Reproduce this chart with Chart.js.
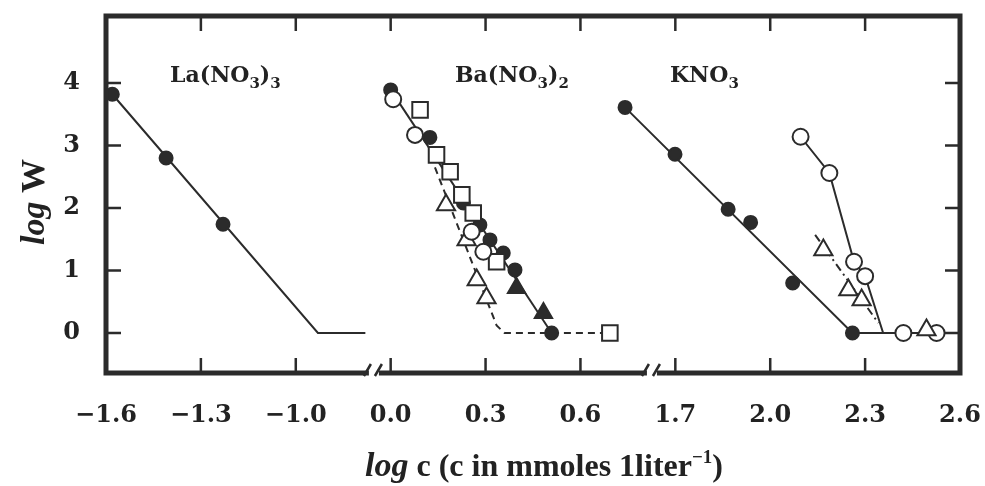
<!DOCTYPE html>
<html>
<head>
<meta charset="utf-8">
<script src="https://cdn.jsdelivr.net/npm/chart.js@4.4.0/dist/chart.umd.min.js"></script>
<style>
  html, body { margin: 0; padding: 0; background: #fff; }
  #wrap { width: 985px; height: 486px; }
</style>
</head>
<body>
<div id="wrap"><canvas id="grafico"></canvas></div>
<script>
// Eixo x quebrado em tres trechos: La(NO3)3, Ba(NO3)2 e KNO3
const ticksLa = [-1.6, -1.3, -1.0];
const ticksBa = [0.0, 0.3, 0.6];
const ticksK = [1.7, 2.0, 2.3, 2.6];
const ticksY = [0, 1, 2, 3, 4];

// La(NO3)3
const laC = [-1.58, -1.41, -1.23];
const laW = [3.82, 2.80, 1.74];
const laRetaC = [-1.58, -0.93, -0.78];
const laRetaW = [3.82, 0.0, 0.0];

// Ba(NO3)2
const baCheioC = [0.0, 0.124, 0.23, 0.282, 0.314, 0.356, 0.393, 0.509];
const baCheioW = [3.89, 3.13, 2.08, 1.73, 1.49, 1.28, 1.01, 0.0];
const baTriCheioC = [0.398, 0.483];
const baTriCheioW = [0.72, 0.32];
const baCirculoC = [0.008, 0.077, 0.256, 0.293];
const baCirculoW = [3.74, 3.17, 1.62, 1.30];
const baQuadC = [0.093, 0.145, 0.188, 0.225, 0.261, 0.335, 0.693];
const baQuadW = [3.57, 2.85, 2.58, 2.21, 1.92, 1.14, 0.0];
const baTriC = [0.175, 0.240, 0.272, 0.303];
const baTriW = [2.05, 1.49, 0.85, 0.56];
const baRetaC = [0.0, 0.509];
const baRetaW = [3.89, 0.0];
const baTracoC = [0.14, 0.335, 0.36, 0.693];
const baTracoW = [2.65, 0.12, 0.0, 0.0];

// KNO3
const kCheioC = [1.541, 1.699, 1.867, 1.938, 2.071, 2.260];
const kCheioW = [3.61, 2.86, 1.98, 1.77, 0.80, 0.0];
const kRetaC = [1.541, 2.260, 2.6];
const kRetaW = [3.61, 0.0, 0.0];
const kCirculoC = [2.096, 2.187, 2.265, 2.300, 2.421, 2.526];
const kCirculoW = [3.14, 2.56, 1.14, 0.91, 0.0, 0.0];
const kCirculoRetaC = [2.096, 2.187, 2.265, 2.300, 2.357];
const kCirculoRetaW = [3.14, 2.56, 1.14, 0.91, 0.0];
const kTriC = [2.168, 2.247, 2.289, 2.494];
const kTriW = [1.33, 0.69, 0.53, 0.05];
const kTracoPontoC = [2.142, 2.342];
const kTracoPontoW = [1.57, 0.16];

// deslocamento de cada trecho no eixo continuo do grafico
const deslocamento = { la: 1.6, ba: 0.9, k: 0.1 };
const quebras = [0.847, 1.726];

const cor = '#2b2b2b';

function serie(cs, ws, trecho) {
  return cs.map((c, i) => ({ x: c + deslocamento[trecho], y: ws[i] }));
}

function marcadores(dados, estilo, raio, cheio) {
  return {
    data: dados, showLine: false, pointStyle: estilo,
    pointRadius: raio, pointHoverRadius: raio,
    pointBackgroundColor: cheio ? cor : '#fff',
    pointBorderColor: cor, pointBorderWidth: 2, order: 1
  };
}

function linha(dados, tracejado) {
  return {
    data: dados, showLine: true, pointRadius: 0, pointHoverRadius: 0,
    borderColor: cor, borderWidth: 2, borderDash: tracejado || [], order: 10
  };
}

const posicoesX = [
  ...ticksLa.map(v => v + deslocamento.la),
  ...ticksBa.map(v => v + deslocamento.ba),
  ...ticksK.map(v => v + deslocamento.k)
];
const rotulosX = [...ticksLa, ...ticksBa, ...ticksK].map(v => v.toFixed(1).replace('-', '\u2212'));

// moldura grossa, ticks para dentro e marcas de quebra
const moldura = {
  id: 'moldura',
  afterDatasetsDraw(chart) {
    const { ctx, chartArea: a, scales } = chart;
    ctx.save();
    ctx.strokeStyle = cor;
    ctx.lineWidth = 2.5;
    ctx.beginPath();
    ticksY.forEach(v => {
      const y = scales.y.getPixelForValue(v);
      ctx.moveTo(a.left, y); ctx.lineTo(a.left + 15, y);
      ctx.moveTo(a.right, y); ctx.lineTo(a.right - 15, y);
    });
    posicoesX.forEach(v => {
      const x = scales.x.getPixelForValue(v);
      ctx.moveTo(x, a.bottom); ctx.lineTo(x, a.bottom - 15);
      ctx.moveTo(x, a.top); ctx.lineTo(x, a.top + 15);
    });
    ctx.stroke();

    ctx.lineWidth = 5;
    ctx.strokeRect(a.left, a.top, a.right - a.left, a.bottom - a.top);

    quebras.forEach(u => {
      const x = scales.x.getPixelForValue(u);
      ctx.fillStyle = '#fff';
      ctx.fillRect(x - 5, a.bottom - 4, 10, 8);
      ctx.lineWidth = 2.5;
      ctx.beginPath();
      ctx.moveTo(x - 10, a.bottom + 3); ctx.lineTo(x - 3, a.bottom - 9);
      ctx.moveTo(x + 1, a.bottom + 3); ctx.lineTo(x + 8, a.bottom - 9);
      ctx.stroke();
    });
    ctx.restore();
  }
};

function formula(ctx, x, y, partes, tam) {
  partes.forEach(([txt, sub]) => {
    ctx.font = sub ? `bold ${Math.round(tam * 0.7)}px "DejaVu Serif"` : `bold ${tam}px "DejaVu Serif"`;
    ctx.fillText(txt, x, sub ? y + 6 : y);
    x += ctx.measureText(txt).width;
  });
}

// titulos dos eixos e nomes dos sais
const textos = {
  id: 'textos',
  afterDraw(chart) {
    const ctx = chart.ctx;
    ctx.save();
    ctx.fillStyle = '#222';
    ctx.textBaseline = 'alphabetic';
    ctx.textAlign = 'left';

    formula(ctx, 170, 82, [['La(NO'], ['3', true], [')'], ['3', true]], 22);
    formula(ctx, 455, 82, [['Ba(NO'], ['3', true], [')'], ['2', true]], 22);
    formula(ctx, 670, 82, [['KNO'], ['3', true]], 22);

    // titulo x
    const partes = [
      ['log', 'italic bold 34px "Liberation Serif"', 0],
      [' c (c in mmoles 1liter', 'bold 32px "Liberation Serif"', 0],
      ['\u22121', 'bold 19px "Liberation Serif"', -13],
      [')', 'bold 32px "Liberation Serif"', 0]
    ];
    let largura = 0;
    partes.forEach(p => { ctx.font = p[1]; largura += ctx.measureText(p[0]).width; });
    let x = 544 - largura / 2;
    partes.forEach(p => {
      ctx.font = p[1];
      ctx.fillText(p[0], x, 476 + p[2]);
      x += ctx.measureText(p[0]).width;
    });

    // titulo y
    ctx.translate(44, 202);
    ctx.rotate(-Math.PI / 2);
    const partesY = [['log', 'italic bold 34px "Liberation Serif"'], [' W', 'bold 34px "Liberation Serif"']];
    largura = 0;
    partesY.forEach(p => { ctx.font = p[1]; largura += ctx.measureText(p[0]).width; });
    x = -largura / 2;
    partesY.forEach(p => {
      ctx.font = p[1];
      ctx.fillText(p[0], x, 0);
      x += ctx.measureText(p[0]).width;
    });
    ctx.restore();
  }
};

new Chart(document.getElementById('grafico'), {
  type: 'scatter',
  data: {
    datasets: [
      linha(serie(laRetaC, laRetaW, 'la')),
      marcadores(serie(laC, laW, 'la'), 'circle', 6.5, true),

      linha(serie(baRetaC, baRetaW, 'ba')),
      linha(serie(baTracoC, baTracoW, 'ba'), [7, 5]),
      marcadores(serie(baCirculoC, baCirculoW, 'ba'), 'circle', 8, false),
      marcadores(serie(baQuadC, baQuadW, 'ba'), 'rect', 11, false),
      marcadores(serie(baTriC, baTriW, 'ba'), 'triangle', 10.5, false),
      marcadores(serie(baTriCheioC, baTriCheioW, 'ba'), 'triangle', 10, true),
      marcadores(serie(baCheioC, baCheioW, 'ba'), 'circle', 6.5, true),

      linha(serie(kRetaC, kRetaW, 'k')),
      linha(serie(kCirculoRetaC, kCirculoRetaW, 'k')),
      linha(serie(kTracoPontoC, kTracoPontoW, 'k'), [8, 4, 2, 4]),
      marcadores(serie(kCheioC, kCheioW, 'k'), 'circle', 6.5, true),
      marcadores(serie(kTriC, kTriW, 'k'), 'triangle', 10.5, false),
      marcadores(serie(kCirculoC, kCirculoW, 'k'), 'circle', 8, false)
    ]
  },
  options: {
    responsive: true,
    maintainAspectRatio: false,
    animation: false,
    events: [],
    layout: { padding: { top: 16, right: 25, left: 0, bottom: 0 } },
    plugins: { legend: { display: false }, tooltip: { enabled: false } },
    scales: {
      x: {
        type: 'linear', min: 0, max: 2.7,
        grid: { display: false }, border: { display: false },
        afterBuildTicks: s => { s.ticks = posicoesX.map(v => ({ value: v })); },
        afterFit: s => { s.height = 113; s.paddingLeft = 0; s.paddingRight = 0; },
        ticks: {
          autoSkip: false, maxRotation: 0, padding: 20, color: '#222',
          font: { family: 'DejaVu Serif', weight: 'bold', size: 24 },
          callback: (v, i) => rotulosX[i]
        }
      },
      y: {
        type: 'linear', min: -0.64, max: 5.072,
        grid: { display: false }, border: { display: false },
        afterBuildTicks: s => { s.ticks = ticksY.map(v => ({ value: v })); },
        afterFit: s => { s.width = 106; s.paddingTop = 0; s.paddingBottom = 0; },
        ticks: {
          padding: 18, color: '#222',
          font: { family: 'DejaVu Serif', weight: 'bold', size: 24 }
        }
      }
    }
  },
  plugins: [moldura, textos]
});
</script>
</body>
</html>
